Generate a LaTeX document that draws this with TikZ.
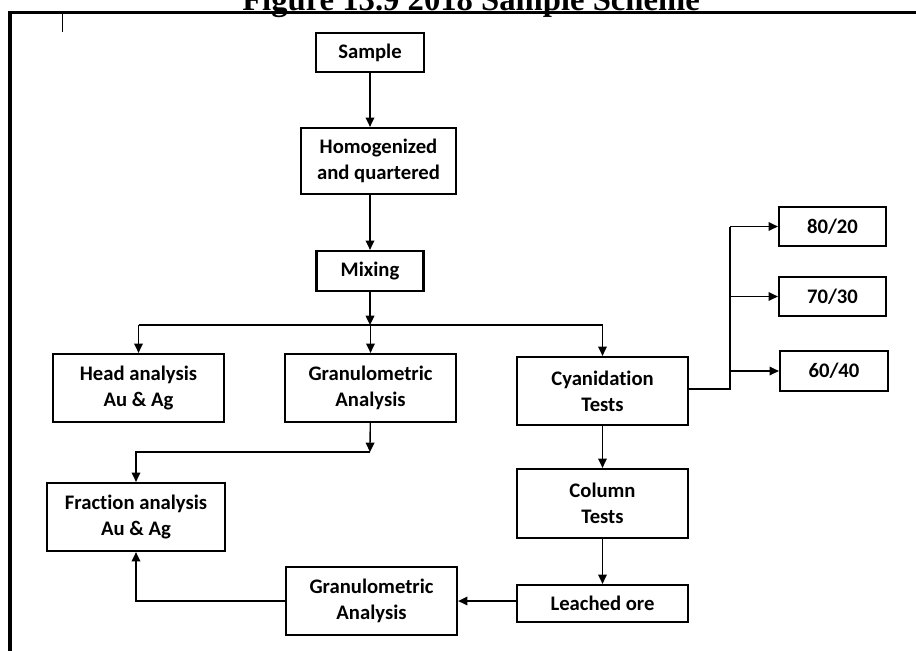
\documentclass[tikz,border=0pt]{standalone}
\usepackage{fontspec}
\setmainfont{Carlito}[Ligatures=NoCommon]
\newfontfamily\titlefont{Liberation Serif}
\usepackage{tikz}
\usetikzlibrary{arrows.meta}

\begin{document}
\begin{tikzpicture}[x=0.75pt,y=0.75pt,yscale=-1,xscale=1,
        box/.style 2 args={draw,line width=1.7pt,align=center,inner sep=2pt,
            minimum width=0.75pt*#1,minimum height=0.75pt*#2,
            font=\fontsize{15.5}{19.5}\selectfont\bfseries},
        arr/.style={line width=1pt,-{Triangle[length=7pt,width=6.5pt]}},
        link/.style={line width=1pt}]
        \useasboundingbox (0,0) rectangle (916,650);
        \clip (0,0) rectangle (916,650);

        % frame and title
        \draw [line width=2.4pt] (10,660) -- (10,12.5) -- (930,12.5) ;
        \draw [line width=0.6pt] (62,13) -- (62,32) ;
        \node [anchor=base west,inner sep=0pt,font=\titlefont\fontsize{24.5}{28}\selectfont\bfseries] (title) at (242,10.5) {Figure 13.9 2018 Sample Scheme};

        % boxes
        \node [box={108}{39}] (sample) at (370,52.5) {Sample};
        \node [box={155}{66}] (homog) at (378.5,161) {Homogenized\\and quartered};
        \node [box={107}{40}] (mixing) at (370,271) {Mixing};
        \node [box={171}{68}] (head) at (138.5,388) {Head analysis\\Au \& Ag};
        \node [box={171}{68}] (granA) at (370.5,388) {Granulometric\\Analysis};
        \node [box={171}{68}] (cyan) at (602.5,391) {Cyanidation\\Tests};
        \node [box={178}{68}] (fraction) at (136,517) {Fraction analysis\\Au \& Ag};
        \node [box={171}{69}] (column) at (602.5,503.5) {Column\\Tests};
        \node [box={171}{68}] (granB) at (371.5,601) {Granulometric\\Analysis};
        \node [box={171}{37}] (leached) at (602.5,603.5) {Leached ore};
        \node [box={107}{39}] (r80) at (832.5,226.5) {80/20};
        \node [box={107}{39}] (r70) at (832.5,296.5) {70/30};
        \node [box={108}{40}] (r60) at (834,371) {60/40};

        \coordinate (split) at (369,325);
        \coordinate (gbend) at (370,452);
        \coordinate (fork) at (730,389);

        % connectors
        \draw [arr] (sample) -- (sample |- homog.north);
        \draw [arr] (homog.south -| mixing) -- (mixing);
        \draw [arr] (mixing) -- (mixing.south |- split);
        \draw [link] (head.north |- split) -- (cyan.north |- split);
        \foreach \n in {head,granA,cyan}
            \draw [arr] (\n.north |- split) -- (\n.north);
        \draw [arr] (granA) -- (gbend);
        \draw [arr] (gbend) -| (fraction.north);
        \draw [arr] (cyan) -- (column);
        \draw [arr] (column) -- (leached);
        \draw [arr] (leached.west |- granB.east) -- (granB.east);
        \draw [arr] (granB.west) -| (fraction.south);
        \draw [link] (cyan.east |- fork) -- (fork) -- (fork |- r80.west);
        \foreach \r in {r80,r70,r60}
            \draw [arr] (fork |- \r.west) -- (\r.west);
\end{tikzpicture}
\end{document}
